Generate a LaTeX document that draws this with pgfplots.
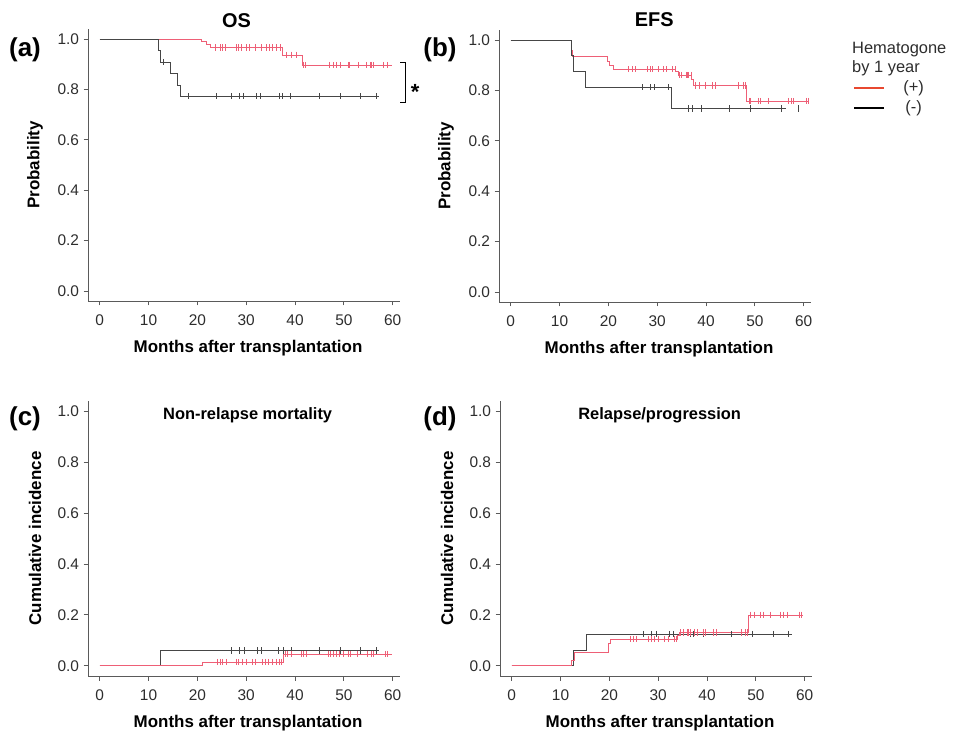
\documentclass[border=0pt]{standalone}
\usepackage{pgfplots}
\pgfplotsset{compat=1.18}
\usepackage{fontspec}
\setmainfont{Liberation Sans}
\definecolor{curvered}{RGB}{238,95,118}
\definecolor{legred}{RGB}{232,72,48}
\definecolor{curveblk}{RGB}{70,70,70}
\definecolor{axgray}{RGB}{90,90,90}
\definecolor{labgray}{RGB}{45,45,45}
\pgfplotsset{
  km/.style={
    scale only axis, width=312bp,
    xmin=-2.4, xmax=61.5, ymin=-0.04, ymax=1.04,
    axis lines=left,
    axis line style={draw=axgray, line width=0.8bp, -},
    xtick={0,10,20,30,40,50,60},
    ytick={0,0.2,0.4,0.6,0.8,1},
    tick align=outside, major tick length=4.5bp,
    tick style={draw=axgray, line width=0.8bp},
    /pgf/number format/assume math mode=true,
    yticklabel style={/pgf/number format/fixed, /pgf/number format/fixed zerofill, /pgf/number format/precision=1, xshift=-1bp},
    xticklabel style={yshift=-6bp},
    ticklabel style={font=\fontsize{15.5}{16}\selectfont, text=labgray},
    label style={font=\bfseries\fontsize{17}{18}\selectfont, text=black},
    clip=false,
  },
  kmred/.style={const plot, color=curvered, line width=0.7bp, forget plot},
  kmblk/.style={const plot, color=curveblk, line width=0.7bp, forget plot},
  cred/.style={only marks, color=curvered, mark=|, mark size=3.2bp, mark options={draw=curvered, line width=0.6bp}, forget plot},
  cblk/.style={only marks, color=curveblk, mark=|, mark size=3.2bp, mark options={draw=curveblk, line width=0.6bp}, forget plot},
}
\begin{document}
\begin{tikzpicture}
\useasboundingbox (0,0) rectangle (955bp,737bp);
% (a) OS
\begin{axis}[km, height=272bp, at={(88bp,436bp)}, anchor=south west,
  xlabel={Months after transplantation}, ylabel={Probability},
  xlabel style={at={(axis description cs:0.513,-0.173)}, anchor=center},
  ylabel style={at={(axis description cs:-0.170,0.5)}, anchor=center}]
\addplot[kmred] coordinates {(0,1)(20.9,0.989)(21.8,0.978)(22.7,0.966)(37.5,0.937)(41.4,0.897)(59.8,0.897)};
\addplot[cred] coordinates {(23.6,0.966)(24.6,0.966)(25.1,0.966)(25.8,0.966)(27.9,0.966)(28.3,0.966)(29.0,0.966)(30.0,0.966)(30.7,0.966)(31.9,0.966)(33.1,0.966)(34.2,0.966)(34.8,0.966)(35.4,0.966)(36.2,0.966)(36.9,0.966)
(38.3,0.937)(39.3,0.937)(40.3,0.937)
(41.7,0.897)(42.2,0.897)(47.0,0.897)(47.8,0.897)(48.5,0.897)(49.2,0.897)(50.9,0.897)(51.2,0.897)(52.9,0.897)(54.6,0.897)(55.5,0.897)(55.7,0.897)(56.1,0.897)(58.1,0.897)(58.9,0.897)};
\addplot[kmblk] coordinates {(0,1)(11.95,0.955)(12.4,0.909)(14.5,0.864)(16.0,0.818)(16.5,0.773)(57.3,0.773)};
\addplot[cblk] coordinates {(13.1,0.909)(18.1,0.773)(23.9,0.773)(27.0,0.773)(28.5,0.773)(29.5,0.773)(32.1,0.773)(32.9,0.773)(36.7,0.773)(37.4,0.773)(39.1,0.773)(44.9,0.773)(49.2,0.773)(53.4,0.773)(56.6,0.773)};
\node[font=\bfseries\fontsize{20}{20}\selectfont] at (axis cs:28,1.075) {OS};
\draw[black, line width=0.9bp] (axis cs:61.5,0.908) -- (axis cs:62.6,0.908) -- (axis cs:62.6,0.749) -- (axis cs:61.5,0.749);
\node[font=\bfseries\fontsize{22}{22}\selectfont] at (axis cs:64.6,0.79) {*};
\end{axis}
% (b) EFS
\begin{axis}[km, height=272bp, at={(499bp,435bp)}, anchor=south west,
  xlabel={Months after transplantation}, ylabel={Probability},
  xlabel style={at={(axis description cs:0.513,-0.173)}, anchor=center},
  ylabel style={at={(axis description cs:-0.170,0.5)}, anchor=center},
  legend style={at={(axis description cs:1.1346,0.82)}, anchor=north west, draw=none, fill=none,
    inner sep=0pt, font=\fontsize{16.5}{18}\selectfont, text=labgray,
    nodes={inner sep=1bp, text height=12bp, text depth=4bp},
    row sep=2bp, /tikz/every odd column/.append style={column sep=17bp}},
  legend cell align=center,
  legend image code/.code={\draw[#1] (0bp,0bp) -- (30bp,0bp);}]
\addplot[kmred] coordinates {(0,1)(12.4,0.96)(12.7,0.937)(19.7,0.915)(20.1,0.898)(21.0,0.884)(33.8,0.874)(34.4,0.861)(37.0,0.845)(37.4,0.82)(48.2,0.758)(61.0,0.758)};
\addplot[cred] coordinates {(24.1,0.884)(25.0,0.884)(25.5,0.884)(27.9,0.884)(28.5,0.884)(29.0,0.884)(30.2,0.884)(31.2,0.884)(31.8,0.884)(33.0,0.884)(33.7,0.884)
(34.5,0.861)(35.0,0.861)(35.9,0.861)(36.1,0.861)(36.3,0.861)(36.9,0.861)
(37.9,0.82)(38.6,0.82)(39.9,0.82)(41.2,0.82)(42.0,0.82)(46.7,0.82)(47.6,0.82)(48.1,0.82)
(48.8,0.758)(49.1,0.758)(50.7,0.758)(51.2,0.758)(52.7,0.758)(56.9,0.758)(57.5,0.758)(57.9,0.758)(60.5,0.758)(61.0,0.758)};
\addplot[kmblk] coordinates {(0,1)(12.5,0.9375)(12.9,0.875)(15.3,0.8125)(32.9,0.729)(56.4,0.729)};
\addplot[cblk] coordinates {(26.9,0.8125)(28.5,0.8125)(29.4,0.8125)(32.3,0.8125)
(36.4,0.729)(37.1,0.729)(39.0,0.729)(44.8,0.729)(49.0,0.729)(55.4,0.729)(58.8,0.729)};
\node[font=\bfseries\fontsize{20}{20}\selectfont] at (axis cs:29.4,1.08) {EFS};
\addlegendimage{color=legred, line width=2.2bp}
\addlegendentry{(+)}
\addlegendimage{color=black, line width=2.2bp}
\addlegendentry{(-)}
\end{axis}
% (c) NRM
\begin{axis}[km, height=275bp, at={(88bp,61bp)}, anchor=south west,
  xlabel={Months after transplantation}, ylabel={Cumulative incidence},
  xlabel style={at={(axis description cs:0.513,-0.171)}, anchor=center},
  ylabel style={at={(axis description cs:-0.170,0.5)}, anchor=center}]
\addplot[kmblk] coordinates {(0,0)(12.5,0.06)(57.3,0.06)};
\addplot[cblk] coordinates {(27.0,0.06)(28.6,0.06)(29.6,0.06)(32.3,0.06)(33.1,0.06)(36.6,0.06)(37.5,0.06)(39.2,0.06)(45.0,0.06)(49.3,0.06)(53.4,0.06)(56.6,0.06)};
\addplot[kmred] coordinates {(0,0)(21.0,0.015)(37.6,0.046)(59.9,0.046)};
\addplot[cred] coordinates {(24.1,0.015)(24.6,0.015)(25.2,0.015)(25.9,0.015)(27.9,0.015)(28.4,0.015)(29.1,0.015)(30.0,0.015)(31.3,0.015)(31.9,0.015)(33.2,0.015)(33.9,0.015)(34.5,0.015)(35.4,0.015)(36.1,0.015)(36.8,0.015)(37.1,0.015)
(38.0,0.046)(38.5,0.046)(39.3,0.046)(41.2,0.046)(41.7,0.046)(42.3,0.046)(46.9,0.046)(47.2,0.046)(47.9,0.046)(48.5,0.046)(49.1,0.046)(49.8,0.046)(51.0,0.046)(51.3,0.046)(52.8,0.046)(54.7,0.046)(55.7,0.046)(56.1,0.046)(58.5,0.046)(59.0,0.046)};
\node[font=\bfseries\fontsize{16.5}{17}\selectfont] at (axis cs:30.3,0.985) {Non-relapse mortality};
\end{axis}
% (d) Relapse
\begin{axis}[km, height=275bp, at={(500bp,61bp)}, anchor=south west,
  xlabel={Months after transplantation}, ylabel={Cumulative incidence},
  xlabel style={at={(axis description cs:0.513,-0.171)}, anchor=center},
  ylabel style={at={(axis description cs:-0.170,0.5)}, anchor=center}]
\addplot[kmblk] coordinates {(0,0)(12.7,0.0625)(15.3,0.125)(57.4,0.125)};
\addplot[cblk] coordinates {(26.9,0.125)(28.6,0.125)(29.6,0.125)(32.3,0.125)(33.0,0.125)(36.5,0.125)(37.2,0.125)(39.2,0.125)(45.0,0.125)(49.2,0.125)(53.5,0.125)(56.7,0.125)};
\addplot[kmred] coordinates {(0,0)(12.3,0.02)(12.8,0.052)(19.7,0.089)(20.1,0.105)(33.9,0.118)(34.4,0.131)(48.5,0.2)(59.7,0.2)};
\addplot[cred] coordinates {(24.2,0.105)(24.9,0.105)(25.6,0.105)(28.0,0.105)(28.6,0.105)(29.1,0.105)(30.1,0.105)(31.3,0.105)(32.0,0.105)(33.2,0.105)(33.7,0.105)
(34.6,0.131)(35.2,0.131)(36.0,0.131)(36.2,0.131)(36.6,0.131)(37.4,0.131)(38.1,0.131)(39.3,0.131)(39.6,0.131)(41.3,0.131)(41.8,0.131)(47.0,0.131)(47.9,0.131)(48.2,0.131)
(48.9,0.2)(49.6,0.2)(51.0,0.2)(51.5,0.2)(53.0,0.2)(55.1,0.2)(55.6,0.2)(56.4,0.2)(58.8,0.2)(59.3,0.2)};
\node[font=\bfseries\fontsize{16.5}{17}\selectfont] at (axis cs:30.3,0.985) {Relapse/progression};
\end{axis}
% panel letters and legend title
\node[font=\bfseries\fontsize{26}{26}\selectfont] at (25bp,687bp) {(a)};
\node[font=\bfseries\fontsize{26}{26}\selectfont] at (440bp,687bp) {(b)};
\node[font=\bfseries\fontsize{26}{26}\selectfont] at (25bp,318bp) {(c)};
\node[font=\bfseries\fontsize{26}{26}\selectfont] at (440bp,318bp) {(d)};
\node[anchor=north west, align=left, inner sep=0pt, text=labgray, font=\fontsize{16.5}{19.5}\selectfont] at (852bp,695bp) {Hematogone\\by 1 year};
\end{tikzpicture}
\end{document}
